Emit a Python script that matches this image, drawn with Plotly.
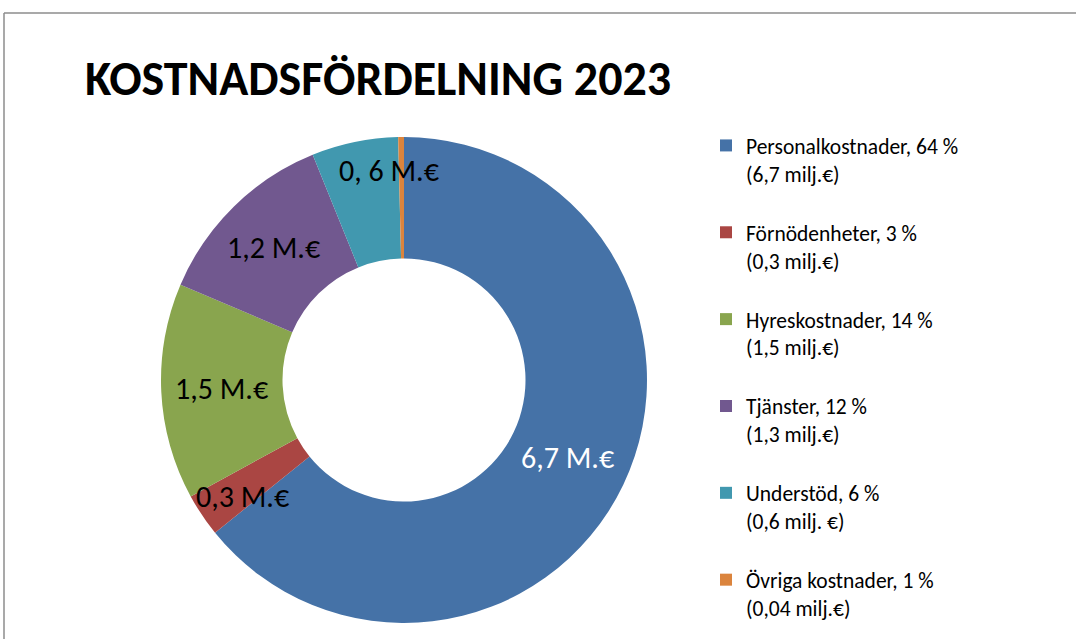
import math
import plotly.graph_objects as go

# ---- data ----
categories = ["Personalkostnader", "Förnödenheter", "Hyreskostnader",
              "Tjänster", "Understöd", "Övriga kostnader"]
values_meur = [6.7, 0.3, 1.5, 1.3, 0.6, 0.04]
percent_labels = ["64 %", "3 %", "14 %", "12 %", "6 %", "1 %"]
amount_labels = ["(6,7 milj.€)", "(0,3 milj.€)", "(1,5 milj.€)",
                 "(1,3 milj.€)", "(0,6 milj. €)", "(0,04 milj.€)"]
slice_labels = ["6,7 M.€", "0,3 M.€", "1,5 M.€", "1,2 M.€", "0, 6 M.€", ""]
title_text = "KOSTNADSFÖRDELNING 2023"

# ---- style ----
colors = ["#4572A7", "#AA4643", "#89A54E", "#71588F", "#4198AF", "#DB843D"]
label_colors = ["white", "black", "black", "black", "black", "black"]
label_rfrac = [0.745, 0.82, 0.75, 0.765, 0.865, 0.75]   # fraction of outer radius
label_dang = [0, -2, 0, 0, 7.5, 0]                        # degrees nudge
FONT = "Carlito, Lato, sans-serif"
W, H = 1076, 639
CX, CY, R = 404, 380, 243
HOLE = 0.5

legend_names = [f" <br>{c}, {p}<br>{a}" for c, p, a in
                zip(categories, percent_labels, amount_labels)]

fig = go.Figure(go.Pie(
    labels=legend_names,
    values=values_meur,
    sort=False,
    direction="clockwise",
    rotation=0,
    hole=HOLE,
    marker=dict(colors=colors, line=dict(width=0)),
    textinfo="none",
    hoverinfo="label+value",
    domain=dict(x=[(CX - R) / W, (CX + R) / W],
                y=[1 - (CY + R) / H, 1 - (CY - R) / H]),
))

# slice value labels placed from the data's angles
total = sum(values_meur)
cum = 0.0
annotations = []
for v, t, col, rf, da in zip(values_meur, slice_labels, label_colors, label_rfrac, label_dang):
    mid = (cum + v / 2) / total * 360 + da
    cum += v
    if not t:
        continue
    th = math.radians(mid)
    px = CX + rf * R * math.sin(th)
    py = CY - rf * R * math.cos(th)
    annotations.append(dict(x=px / W, y=1 - py / H, xref="paper", yref="paper",
                            text=t, showarrow=False,
                            font=dict(family=FONT, size=30, color=col),
                            xanchor="center", yanchor="middle"))

fig.update_layout(
    width=W, height=H,
    margin=dict(l=0, r=0, t=0, b=0),
    paper_bgcolor="white",
    plot_bgcolor="white",
    title=dict(text=f"<b>{title_text}</b>", x=85 / W, xanchor="left",
               y=1 - 78 / H, yanchor="middle",
               font=dict(family=FONT, size=48, color="black")),
    legend=dict(x=706 / W, xanchor="left", y=1 - 97 / H, yanchor="top",
                font=dict(family=FONT, size=21.5, color="black"),
                bgcolor="rgba(0,0,0,0)", tracegroupgap=0),
    annotations=annotations,
    shapes=[
        dict(type="line", xref="paper", yref="paper",
             x0=4 / W, x1=1.0, y0=1 - 13 / H, y1=1 - 13 / H,
             line=dict(color="#8c8c8c", width=1.5)),
        dict(type="line", xref="paper", yref="paper",
             x0=4 / W, x1=4 / W, y0=1 - 13 / H, y1=0,
             line=dict(color="#8c8c8c", width=1.5)),
    ],
)

fig.write_html("out.html", config={"displayModeBar": False},
               post_script="document.body.style.margin='0';")
